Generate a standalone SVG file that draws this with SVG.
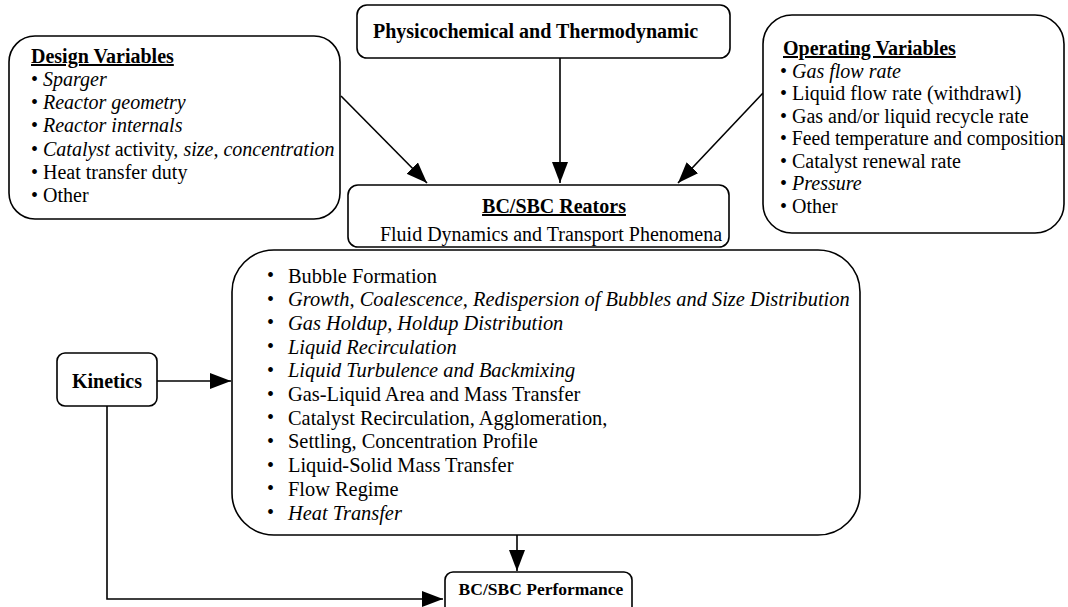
<svg xmlns="http://www.w3.org/2000/svg" width="1068" height="607" viewBox="0 0 1068 607">
<style>
.box{fill:#fff;stroke:#000;stroke-width:1.6}
.t{font-family:"Liberation Serif","Times New Roman",serif;font-size:20px;fill:#000}
.b{font-weight:bold}
.i{font-style:italic}
.u{text-decoration:underline}
.sb{font-size:20px}
.big{font-size:20.4px}
.con{fill:none;stroke:#000;stroke-width:1.6}
</style>
<defs>
<marker id="ah" markerUnits="userSpaceOnUse" markerWidth="24" markerHeight="18" refX="21" refY="8" orient="auto">
<path d="M0,0 L21,8 L0,16 z" fill="#000"/>
</marker>
</defs>
<rect width="1068" height="607" fill="#fff"/>
<g id="connectors">
<path class="con" d="M341,96 L427,183" marker-end="url(#ah)"/>
<path class="con" d="M560,58 L560,183" marker-end="url(#ah)"/>
<path class="con" d="M763,93 L678,183" marker-end="url(#ah)"/>
<path class="con" d="M157,381 L231,381" marker-end="url(#ah)"/>
<path class="con" d="M517,535 L517,571" marker-end="url(#ah)"/>
<path class="con" d="M107,406 L107,599 L443,599" marker-end="url(#ah)"/>
</g>
<g id="design">
<rect class="box" x="9" y="36" width="331" height="183" rx="26"/>
<text class="t b u" x="31" y="63">Design Variables</text>
<text class="t" x="31" y="86">• <tspan class="i">Sparger</tspan></text>
<text class="t" x="31" y="109">• <tspan class="i">Reactor geometry</tspan></text>
<text class="t" x="31" y="132">• <tspan class="i">Reactor internals</tspan></text>
<text class="t" x="31" y="156">• <tspan class="i">Catalyst</tspan> activity, <tspan class="i">size, concentration</tspan></text>
<text class="t" x="31" y="179">• Heat transfer duty</text>
<text class="t" x="31" y="202">• Other</text>
</g>
<g id="physico">
<rect class="box" x="357" y="5" width="373" height="53" rx="10"/>
<text class="t b" x="373" y="38">Physicochemical and Thermodynamic</text>
</g>
<g id="operating">
<rect class="box" x="763" y="15" width="301" height="218" rx="29"/>
<text class="t b u" x="783" y="55">Operating Variables</text>
<text class="t" x="780" y="77.5">• <tspan class="i">Gas flow rate</tspan></text>
<text class="t" x="780" y="100">• Liquid flow rate (withdrawl)</text>
<text class="t" x="780" y="122.5">• Gas and/or liquid recycle rate</text>
<text class="t" x="780" y="145" textLength="284" lengthAdjust="spacingAndGlyphs">• Feed temperature and composition</text>
<text class="t" x="780" y="167.5">• Catalyst renewal rate</text>
<text class="t" x="780" y="190">• <tspan class="i">Pressure</tspan></text>
<text class="t" x="780" y="212.5">• Other</text>
</g>
<g id="reactors">
<rect class="box" x="348" y="185" width="381" height="62" rx="10"/>
<text class="t b u" x="554" y="213" text-anchor="middle">BC/SBC Reators</text>
<text class="t" x="551" y="241" text-anchor="middle">Fluid Dynamics and Transport Phenomena</text>
</g>
<g id="phenomena">
<rect class="box" x="232" y="250" width="628" height="285" rx="42"/>
<g class="t sb">
<text x="267" y="282">•</text>
<text x="267" y="305.7">•</text>
<text x="267" y="329.4">•</text>
<text x="267" y="353.1">•</text>
<text x="267" y="376.8">•</text>
<text x="267" y="400.5">•</text>
<text x="267" y="424.2">•</text>
<text x="267" y="447.9">•</text>
<text x="267" y="471.6">•</text>
<text x="267" y="495.3">•</text>
<text x="267" y="519">•</text>
</g>
<g class="t big">
<text x="288" y="282.5">Bubble Formation</text>
<text class="i" x="288" y="306.2">Growth, Coalescence, Redispersion of Bubbles and Size Distribution</text>
<text class="i" x="288" y="329.9">Gas Holdup, Holdup Distribution</text>
<text class="i" x="288" y="353.6">Liquid Recirculation</text>
<text class="i" x="288" y="377.3">Liquid Turbulence and Backmixing</text>
<text x="288" y="401">Gas-Liquid Area and Mass Transfer</text>
<text x="288" y="424.7">Catalyst Recirculation, Agglomeration,</text>
<text x="288" y="448.4">Settling, Concentration Profile</text>
<text x="288" y="472.1">Liquid-Solid Mass Transfer</text>
<text x="288" y="495.8">Flow Regime</text>
<text class="i" x="288" y="519.5">Heat Transfer</text>
</g>
</g>
<g id="kinetics">
<rect class="box" x="57" y="353" width="100" height="53" rx="8"/>
<text class="t b" x="107" y="388" text-anchor="middle">Kinetics</text>
</g>
<g id="performance">
<rect class="box" x="445" y="572" width="187" height="50" rx="8"/>
<text class="t b" x="541" y="595" text-anchor="middle" style="font-size:17.5px">BC/SBC Performance</text>
</g>
</svg>
